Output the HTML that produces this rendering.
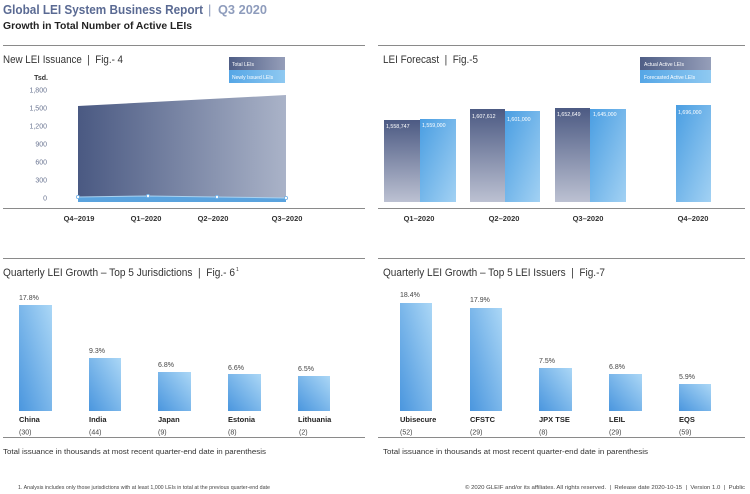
<!DOCTYPE html>
<html><head><meta charset="utf-8">
<style>
html,body{margin:0;padding:0;background:#fff;}
svg{display:block;font-family:"Liberation Sans",sans-serif;}
svg text{white-space:pre;}
</style></head>
<body>
<svg width="750" height="494" viewBox="0 0 750 494" xmlns="http://www.w3.org/2000/svg" xml:space="preserve">
<defs>
<linearGradient id="gArea" x1="0" y1="0" x2="1" y2="0">
<stop offset="0" stop-color="#4a5982"/><stop offset="1" stop-color="#aab3c8"/>
</linearGradient>
<linearGradient id="gDark" x1="0" y1="0" x2="0" y2="1">
<stop offset="0" stop-color="#4c5a83"/><stop offset="1" stop-color="#bcc1d2"/>
</linearGradient>
<linearGradient id="gFc" x1="0" y1="0" x2="1" y2="1">
<stop offset="0" stop-color="#4a9ee2"/><stop offset="1" stop-color="#a2d1f3"/>
</linearGradient>
<linearGradient id="gBar" x1="0" y1="1" x2="1" y2="0">
<stop offset="0" stop-color="#4a96de"/><stop offset="1" stop-color="#abd7f6"/>
</linearGradient>
<linearGradient id="gLegD" x1="0" y1="0" x2="1" y2="0">
<stop offset="0" stop-color="#4f5e86"/><stop offset="1" stop-color="#959eb9"/>
</linearGradient>
<linearGradient id="gLegL" x1="0" y1="0" x2="1" y2="0">
<stop offset="0" stop-color="#55a6e6"/><stop offset="1" stop-color="#8fc9f1"/>
</linearGradient>
</defs>
<text x="3" y="14" font-size="13" font-weight="bold" fill="#5a6a93" textLength="200" lengthAdjust="spacingAndGlyphs">Global LEI System Business Report</text>
<text x="208" y="14" font-size="13" fill="#8e9cbc">|</text>
<text x="218" y="14" font-size="13" font-weight="bold" fill="#8e9cbc" textLength="49" lengthAdjust="spacingAndGlyphs">Q3 2020</text>
<text x="3" y="29" font-size="10" font-weight="bold" fill="#222" textLength="189" lengthAdjust="spacingAndGlyphs">Growth in Total Number of Active LEIs</text>
<line x1="3" y1="45.5" x2="365" y2="45.5" stroke="#8a8a8a" stroke-width="1"/>
<line x1="378" y1="45.5" x2="745" y2="45.5" stroke="#8a8a8a" stroke-width="1"/>
<text x="3" y="63" font-size="11" fill="#333" textLength="120" lengthAdjust="spacingAndGlyphs">New LEI Issuance  |  Fig.- 4</text>
<rect x="229" y="57" width="56" height="13" fill="url(#gLegD)"/>
<rect x="229" y="70" width="56" height="13" fill="url(#gLegL)"/>
<text x="232" y="66" font-size="5" fill="#fff">Total LEIs</text>
<text x="232" y="79" font-size="5" fill="#fff">Newly Issued LEIs</text>
<text x="48" y="80" font-size="7" font-weight="bold" fill="#333" text-anchor="end">Tsd.</text>
<g font-size="7" fill="#6a7592" text-anchor="end">
<text x="47" y="92.5">1,800</text>
<text x="47" y="110.5">1,500</text>
<text x="47" y="128.5">1,200</text>
<text x="47" y="146.5">900</text>
<text x="47" y="164.5">600</text>
<text x="47" y="182.5">300</text>
<text x="47" y="200.5">0</text>
</g>
<polygon points="78,106 286,95 286,198 217,197 148,196 78,197" fill="url(#gArea)"/>
<polygon points="78,197 148,196 217,197 286,198 286,202 78,202" fill="#5aa3de"/>
<polyline points="78,197 148,196 217,197 286,198" fill="none" stroke="#a9d2f1" stroke-width="1"/>
<g fill="#fff" stroke="#6fb0e6" stroke-width="0.8">
<circle cx="78" cy="197" r="1.6"/><circle cx="148" cy="196" r="1.6"/><circle cx="217" cy="197" r="1.6"/><circle cx="286" cy="198" r="1.6"/>
</g>
<line x1="3" y1="208.5" x2="365" y2="208.5" stroke="#8a8a8a" stroke-width="1"/>
<g font-size="7.5" font-weight="bold" fill="#333" text-anchor="middle">
<text x="79" y="221">Q4–2019</text>
<text x="146" y="221">Q1–2020</text>
<text x="213" y="221">Q2–2020</text>
<text x="287" y="221">Q3–2020</text>
</g>
<text x="383" y="63" font-size="11" fill="#333" textLength="95" lengthAdjust="spacingAndGlyphs">LEI Forecast  |  Fig.-5</text>
<rect x="640" y="57" width="71" height="13" fill="url(#gLegD)"/>
<rect x="640" y="70" width="71" height="13" fill="url(#gLegL)"/>
<text x="644" y="66" font-size="5" fill="#fff">Actual Active LEIs</text>
<text x="644" y="79" font-size="5" fill="#fff">Forecasted Active LEIs</text>
<rect x="384" y="120" width="36" height="82" fill="url(#gDark)"/>
<rect x="420" y="119" width="36" height="83" fill="url(#gFc)"/>
<rect x="470" y="109" width="35" height="93" fill="url(#gDark)"/>
<rect x="505" y="111" width="35" height="91" fill="url(#gFc)"/>
<rect x="555" y="108" width="35" height="94" fill="url(#gDark)"/>
<rect x="590" y="109" width="36" height="93" fill="url(#gFc)"/>
<rect x="676" y="105" width="35" height="97" fill="url(#gFc)"/>
<g font-size="5.3" fill="#fff">
<text x="386" y="128">1,558,747</text>
<text x="422" y="127">1,559,000</text>
<text x="472" y="118">1,607,612</text>
<text x="507" y="121">1,601,000</text>
<text x="557" y="116">1,652,649</text>
<text x="593" y="116">1,645,000</text>
<text x="678" y="114">1,696,000</text>
</g>
<line x1="378" y1="208.5" x2="745" y2="208.5" stroke="#8a8a8a" stroke-width="1"/>
<g font-size="7.5" font-weight="bold" fill="#333" text-anchor="middle">
<text x="419" y="221">Q1–2020</text>
<text x="504" y="221">Q2–2020</text>
<text x="588" y="221">Q3–2020</text>
<text x="693" y="221">Q4–2020</text>
</g>
<line x1="3" y1="258.5" x2="365" y2="258.5" stroke="#8a8a8a" stroke-width="1"/>
<text x="3" y="276" font-size="11" fill="#333" textLength="232" lengthAdjust="spacingAndGlyphs">Quarterly LEI Growth – Top 5 Jurisdictions  |  Fig.- 6</text>
<text x="236" y="271" font-size="5" fill="#333">1</text>
<rect x="19" y="305" width="33" height="106" fill="url(#gBar)"/>
<rect x="89" y="358" width="32" height="53" fill="url(#gBar)"/>
<rect x="158" y="372" width="33" height="39" fill="url(#gBar)"/>
<rect x="228" y="374" width="33" height="37" fill="url(#gBar)"/>
<rect x="298" y="376" width="32" height="35" fill="url(#gBar)"/>
<g font-size="7" fill="#444">
<text x="19" y="300">17.8%</text>
<text x="89" y="353">9.3%</text>
<text x="158" y="367">6.8%</text>
<text x="228" y="370">6.6%</text>
<text x="298" y="371">6.5%</text>
</g>
<g font-size="7.5" font-weight="bold" fill="#222">
<text x="19" y="422">China</text>
<text x="89" y="422">India</text>
<text x="158" y="422">Japan</text>
<text x="228" y="422">Estonia</text>
<text x="298" y="422">Lithuania</text>
</g>
<g font-size="7" fill="#444">
<text x="19" y="434.5">(30)</text>
<text x="89" y="434.5">(44)</text>
<text x="158" y="434.5">(9)</text>
<text x="228" y="434.5">(8)</text>
<text x="299" y="434.5">(2)</text>
</g>
<line x1="3" y1="437.5" x2="365" y2="437.5" stroke="#8a8a8a" stroke-width="1"/>
<text x="3" y="454" font-size="7" fill="#333" textLength="263" lengthAdjust="spacingAndGlyphs">Total issuance in thousands at most recent quarter-end date in parenthesis</text>
<line x1="378" y1="258.5" x2="745" y2="258.5" stroke="#8a8a8a" stroke-width="1"/>
<text x="383" y="276" font-size="11" fill="#333" textLength="222" lengthAdjust="spacingAndGlyphs">Quarterly LEI Growth – Top 5 LEI Issuers  |  Fig.-7</text>
<rect x="400" y="303" width="32" height="108" fill="url(#gBar)"/>
<rect x="470" y="308" width="32" height="103" fill="url(#gBar)"/>
<rect x="539" y="368" width="33" height="43" fill="url(#gBar)"/>
<rect x="609" y="374" width="33" height="37" fill="url(#gBar)"/>
<rect x="679" y="384" width="32" height="27" fill="url(#gBar)"/>
<g font-size="7" fill="#444">
<text x="400" y="297">18.4%</text>
<text x="470" y="302">17.9%</text>
<text x="539" y="363">7.5%</text>
<text x="609" y="369">6.8%</text>
<text x="679" y="379">5.9%</text>
</g>
<g font-size="7.5" font-weight="bold" fill="#222">
<text x="400" y="422">Ubisecure</text>
<text x="470" y="422">CFSTC</text>
<text x="539" y="422">JPX TSE</text>
<text x="609" y="422">LEIL</text>
<text x="679" y="422">EQS</text>
</g>
<g font-size="7" fill="#444">
<text x="400" y="434.5">(52)</text>
<text x="470" y="434.5">(29)</text>
<text x="539" y="434.5">(8)</text>
<text x="609" y="434.5">(29)</text>
<text x="679" y="434.5">(59)</text>
</g>
<line x1="378" y1="437.5" x2="745" y2="437.5" stroke="#8a8a8a" stroke-width="1"/>
<text x="383" y="454" font-size="7" fill="#333" textLength="265" lengthAdjust="spacingAndGlyphs">Total issuance in thousands at most recent quarter-end date in parenthesis</text>
<text x="18" y="489" font-size="5" fill="#444" textLength="252" lengthAdjust="spacingAndGlyphs">1. Analysis includes only those jurisdictions with at least 1,000 LEIs in total at the previous quarter-end date</text>
<text x="465" y="489" font-size="5.5" fill="#444" textLength="280" lengthAdjust="spacingAndGlyphs">© 2020 GLEIF and/or its affiliates. All rights reserved.  |  Release date 2020-10-15  |  Version 1.0  |  Public</text>
</svg>
</body></html>
